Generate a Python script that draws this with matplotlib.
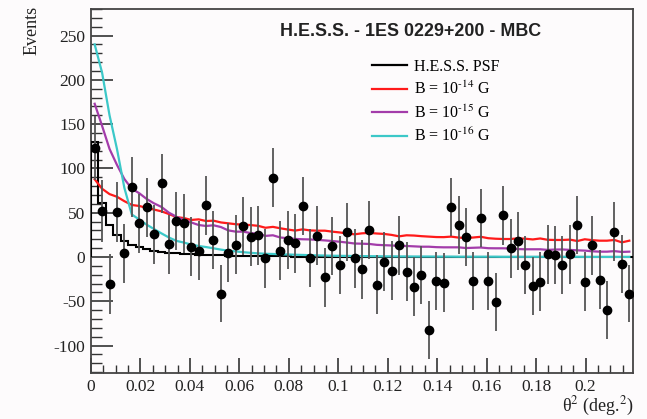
import numpy as np
import matplotlib
matplotlib.use("Agg")
import matplotlib.pyplot as plt
from matplotlib.ticker import MultipleLocator, FormatStrFormatter
from matplotlib.lines import Line2D

plt.rcParams['font.family'] = ['Liberation Serif', 'DejaVu Serif']
plt.rcParams['mathtext.fontset'] = 'stix'
plt.rcParams['axes.unicode_minus'] = False

# theta^2 binning (73 bins)
theta2_max = 0.2192
n_bins = 73

# measured excess events per bin
excess = [122.7, 52.3, -30.5, 51, 4, 79, 38, 56, 25.6, 83,
          14.3, 40.6, 38, 11.6, 7.1, 58.3, 19.2, -41.4, 4.9, 13.9,
          35, 23, 24.5, -1.5, 89.5, 7.1, 19.2, 15.4, 57.6, -1.1,
          24, -23, 12.4, -9, 28.2, -1.5, -13.9, 30.5, -31.2, -5.3,
          -15.4, 13.2, -16.5, -33.5, -20.3, -82.4, -27, -29, 56.4, 36.1,
          22.6, -27, 44, -27, -51, 47, 9.8, 18, -9, -33,
          -27.8, 3, 2.3, -9, 3, 36, -27.8, 13.2, -25.6, -59.8,
          28.6, -7.9, -41.4]
excess_err = [36, 35, 34, 34, 33, 34, 33, 33, 33, 33,
              33, 33, 33, 33, 33, 33, 33, 32, 33, 33,
              33, 33, 33, 33, 33, 33, 33, 33, 33, 33,
              33, 33, 33, 33, 33, 33, 33, 33, 33, 33,
              33, 33, 33, 33, 33, 33, 33, 33, 33, 33,
              33, 33, 33, 33, 33, 33, 33, 33, 33, 33,
              33, 33, 33, 33, 33, 33, 33, 33, 33, 33,
              33, 33, 32]

# model curves
psf = [130, 61, 36, 25, 18.4, 13.5, 11, 8.7, 7.2, 6.0,
       5.0, 4.3, 3.7, 3.2, 2.7, 2.3, 2.0, 1.7, 1.5, 1.3,
       1.1, 1.0, 0.9, 0.8, 0.7, 0.6, 0.55, 0.5, 0.45, 0.4,
       0.35, 0.3, 0.3, 0.25, 0.25, 0.2, 0.2, 0.2, 0.2, 0.15,
       0.15, 0.15, 0.15, 0.1, 0.1, 0.1, 0.1, 0.1, 0.1, 0.1,
       0.1, 0.1, 0.1, 0.1, 0.1, 0.1, 0.1, 0.1, 0.1, 0.1,
       0.1, 0.1, 0.1, 0.1, 0.1, 0.1, 0.1, 0.1, 0.1, 0.1,
       0.1, 0.1, 0.1]
b14 = [87.7, 77, 71, 68, 63, 58.7, 57.6, 55.5, 53.5, 51.5,
       48.5, 45, 44, 41.8, 42.5, 40.6, 41, 39, 38, 37,
       36.5, 36, 35.2, 33, 34, 32.4, 31, 29.8, 31.2, 30,
       29.7, 29.7, 28.6, 27.7, 26.5, 25.6, 26.7, 27.2, 26.5, 26,
       24.9, 23.3, 24.5, 24.2, 23.5, 23, 22.5, 22.4, 23, 21.9,
       21.4, 22, 22.8, 21.2, 20.6, 20.3, 20.3, 21, 20.6, 19.8,
       20.9, 19.4, 19.2, 19.2, 19.6, 18, 20, 19, 18.4, 18.4,
       19.2, 16.5, 18.4]
b15 = [173, 148, 122, 104, 88, 77, 72, 65.5, 60.5, 56.5,
       50, 45.5, 41.6, 39, 36.1, 35, 35.8, 33.8, 30, 28.6,
       28.6, 27, 26.3, 23.8, 24.5, 22, 21.2, 20.4, 20, 19.8,
       19.3, 18.7, 18, 17.2, 16.3, 15.2, 15, 14.7, 13.7, 13.3,
       13, 12.4, 12.4, 12, 11.6, 11.6, 11.1, 10.9, 10.9, 10.9,
       10.1, 10.4, 10.7, 9.9, 9.8, 9.8, 9.6, 8.9, 8.7, 8.7,
       8.7, 8.0, 8.4, 8.5, 8.0, 7.5, 7.2, 6.4, 6, 6,
       6.6, 5.7, 6]
b16 = [240, 208, 160, 122, 78, 48, 42.3, 36.5, 31.5, 26.6,
       22, 18.2, 16.3, 14, 12.4, 11.2, 9.8, 8.3, 7.1, 6.3,
       5.4, 4.7, 4.1, 3.6, 3.4, 3.1, 2.8, 2.5, 2.3, 2.0,
       1.8, 1.6, 1.4, 1.3, 1.2, 1.1, 1.0, 0.9, 0.8, 0.7,
       0.7, 0.6, 0.6, 0.5, 0.5, 0.5, 0.4, 0.4, 0.4, 0.3,
       0.3, 0.3, 0.3, 0.3, 0.3, 0.2, 0.2, 0.2, 0.2, 0.2,
       0.2, 0.2, 0.2, 0.2, 0.2, 0.2, 0.1, 0.1, 0.1, 0.1,
       0.1, 0.1, 0.1]

labels = ['H.E.S.S. PSF', r'B = 10$^{\text{-14}}$ G', r'B = 10$^{\text{-15}}$ G',
          r'B = 10$^{\text{-16}}$ G']
colors = ['black', '#ff1a1a', '#a33caa', '#3cc8c8']

edges = np.linspace(0, theta2_max, n_bins + 1)
centers = 0.5 * (edges[1:] + edges[:-1])

bg = '#fdfbfc'
fig = plt.figure(figsize=(6.47, 4.19), dpi=100, facecolor=bg)
ax = fig.add_axes([0.1406, 0.1098, 0.8378, 0.8687], facecolor=bg)

ax.stairs(psf, edges, baseline=0, color=colors[0], lw=1.5, zorder=3)
ax.plot(centers, b14, color=colors[1], lw=1.6, zorder=3)
ax.plot(centers, b15, color=colors[2], lw=1.6, zorder=3)
ax.plot(centers, b16, color=colors[3], lw=1.6, zorder=3)
ax.errorbar(centers, excess, yerr=excess_err, fmt='o', color='black', ms=6,
            ecolor='#555555', elinewidth=1.3, capsize=0, zorder=4)

ax.set_xlim(0, theta2_max)
ax.set_ylim(-131, 280)

ax.xaxis.set_major_locator(MultipleLocator(0.02))
ax.xaxis.set_minor_locator(MultipleLocator(0.005))
ax.yaxis.set_major_locator(MultipleLocator(50))
ax.yaxis.set_minor_locator(MultipleLocator(10))
ax.xaxis.set_major_formatter(FormatStrFormatter('%g'))
ax.yaxis.set_major_formatter(FormatStrFormatter('%g'))
ax.tick_params(axis='both', which='both', direction='in', top=False, right=False,
               color='#333333', labelsize=12.5, labelcolor='#222222')
ax.tick_params(axis='y', which='major', length=16, width=1.2, pad=4)
ax.tick_params(axis='y', which='minor', length=8, width=1.0)
ax.tick_params(axis='x', which='major', length=11, width=1.2, pad=4)
ax.tick_params(axis='x', which='minor', length=6, width=1.0)
for sp in ax.spines.values():
    sp.set_color('#444444')
    sp.set_linewidth(1.3)

fig.text(32 / 647, 1 - 6 / 419, 'Events', rotation=90, ha='center', va='top',
         fontsize=13, color='#222222')
fig.text(634 / 647, 1 - 418 / 419, r'θ$^2$ (deg.$^2$)', ha='right', va='bottom',
         fontsize=13, color='#222222')
fig.text(411 / 647, 1 - 32 / 419, 'H.E.S.S. - 1ES 0229+200 - MBC', ha='center',
         va='center', fontsize=12.9, fontweight='bold', family='Liberation Sans',
         color='#222222')

handles = [Line2D([], [], color=c, lw=1.6) for c in colors]
ax.legend(handles, labels, loc='upper left', bbox_to_anchor=(364 / 647, 1 - 51 / 419),
          bbox_transform=fig.transFigure, frameon=False, fontsize=11.5,
          handlelength=2.2, handletextpad=0.45, labelspacing=0.38, borderpad=0)

fig.savefig('out.png', dpi=100, facecolor=bg)
